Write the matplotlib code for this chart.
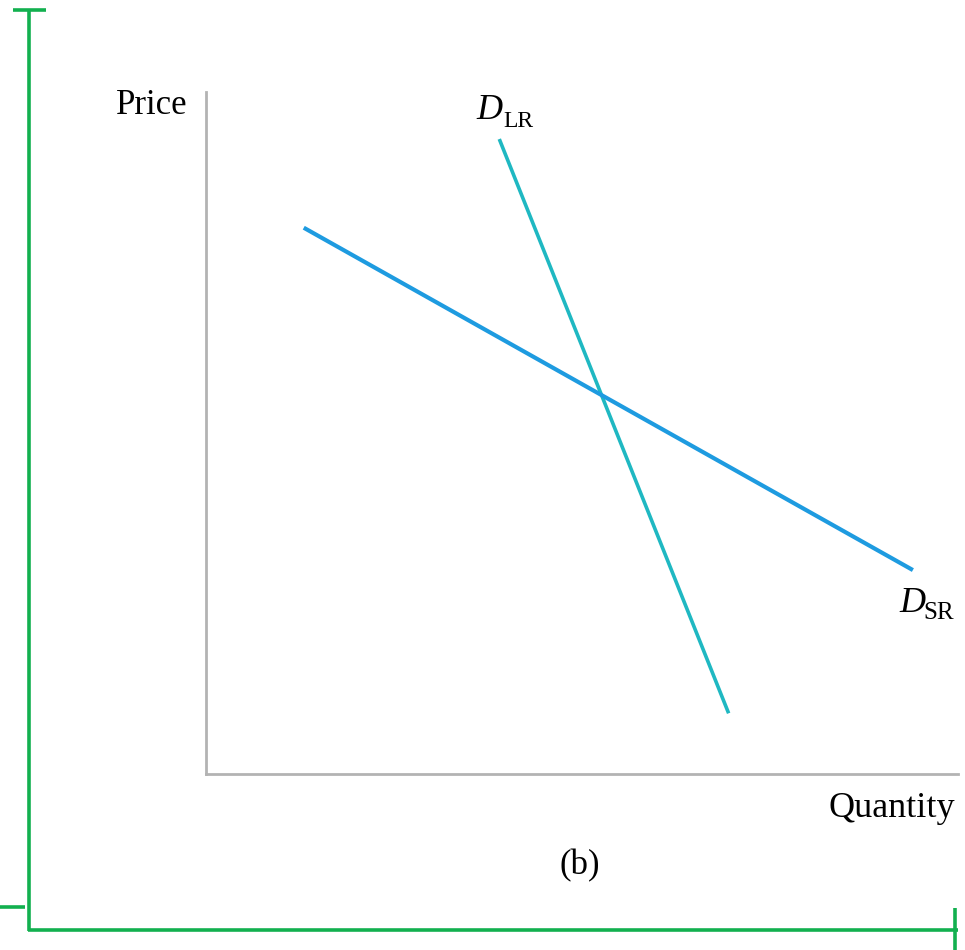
import matplotlib
matplotlib.use("Agg")
import matplotlib.pyplot as plt
from matplotlib.lines import Line2D

# Data (quantity, price) in arbitrary 0-100 units
dsr_q = [13.0, 94.0]
dsr_p = [80.1, 29.9]
dlr_q = [39.0, 69.5]
dlr_p = [93.1, 8.9]
price_label = "Price"
quantity_label = "Quantity"
panel_label = "(b)"
curve_main = "D"
dlr_sub = "LR"
dsr_sub = "SR"

W, H = 965, 950
plt.rcParams['font.family'] = ['Liberation Serif', 'DejaVu Serif']
fig = plt.figure(figsize=(W / 100, H / 100), dpi=100)

# axes area in pixel terms -> figure fraction
x0, x1 = 206, 958
y0, y1 = 774, 92
ax = fig.add_axes([x0 / W, 1 - y0 / H, (x1 - x0) / W, (y0 - y1) / H])
ax.set_xlim(0, 100)
ax.set_ylim(0, 100)
for s in ["top", "right"]:
    ax.spines[s].set_visible(False)
for s in ["left", "bottom"]:
    ax.spines[s].set_color("#b3b3b3")
    ax.spines[s].set_linewidth(2.0)
ax.set_xticks([])
ax.set_yticks([])
ax.patch.set_alpha(0)

ax.plot(dlr_q, dlr_p, color="#1fb8c2", lw=2.6, solid_capstyle="butt", zorder=2)
ax.plot(dsr_q, dsr_p, color="#1e9be0", lw=3.0, solid_capstyle="butt", zorder=3)

fs = 25
fs_sub = 17


def ftext(px, py, s, **kw):
    kw.setdefault("fontsize", fs)
    kw.setdefault("va", "baseline")
    return fig.text(px / W, 1 - py / H, s, **kw)


ftext(188, 114, price_label, ha="right")
ftext(955, 817, quantity_label, ha="right", fontsize=26)
ftext(580, 874, panel_label, ha="center")
ftext(476, 119, curve_main, ha="left", style="italic", fontsize=26)
ftext(503, 127, dlr_sub, ha="left", fontsize=fs_sub)
ftext(899, 612, curve_main, ha="left", style="italic", fontsize=26)
ftext(923, 619, dsr_sub, ha="left", fontsize=fs_sub + 1)

# green bracket decoration (figure pixel coords)
green = "#12b04f"


def seg(xa, ya, xb, yb, lw=2.6):
    fig.add_artist(Line2D([xa / W, xb / W], [1 - ya / H, 1 - yb / H],
                          color=green, lw=lw, transform=fig.transFigure,
                          solid_capstyle="butt"))


seg(29, 10, 29, 931)
seg(13, 10, 46, 10)
seg(0, 907, 25, 907)
seg(28, 930, 958, 930)
seg(955, 908, 955, 950)

fig.savefig("out.png", dpi=100)
